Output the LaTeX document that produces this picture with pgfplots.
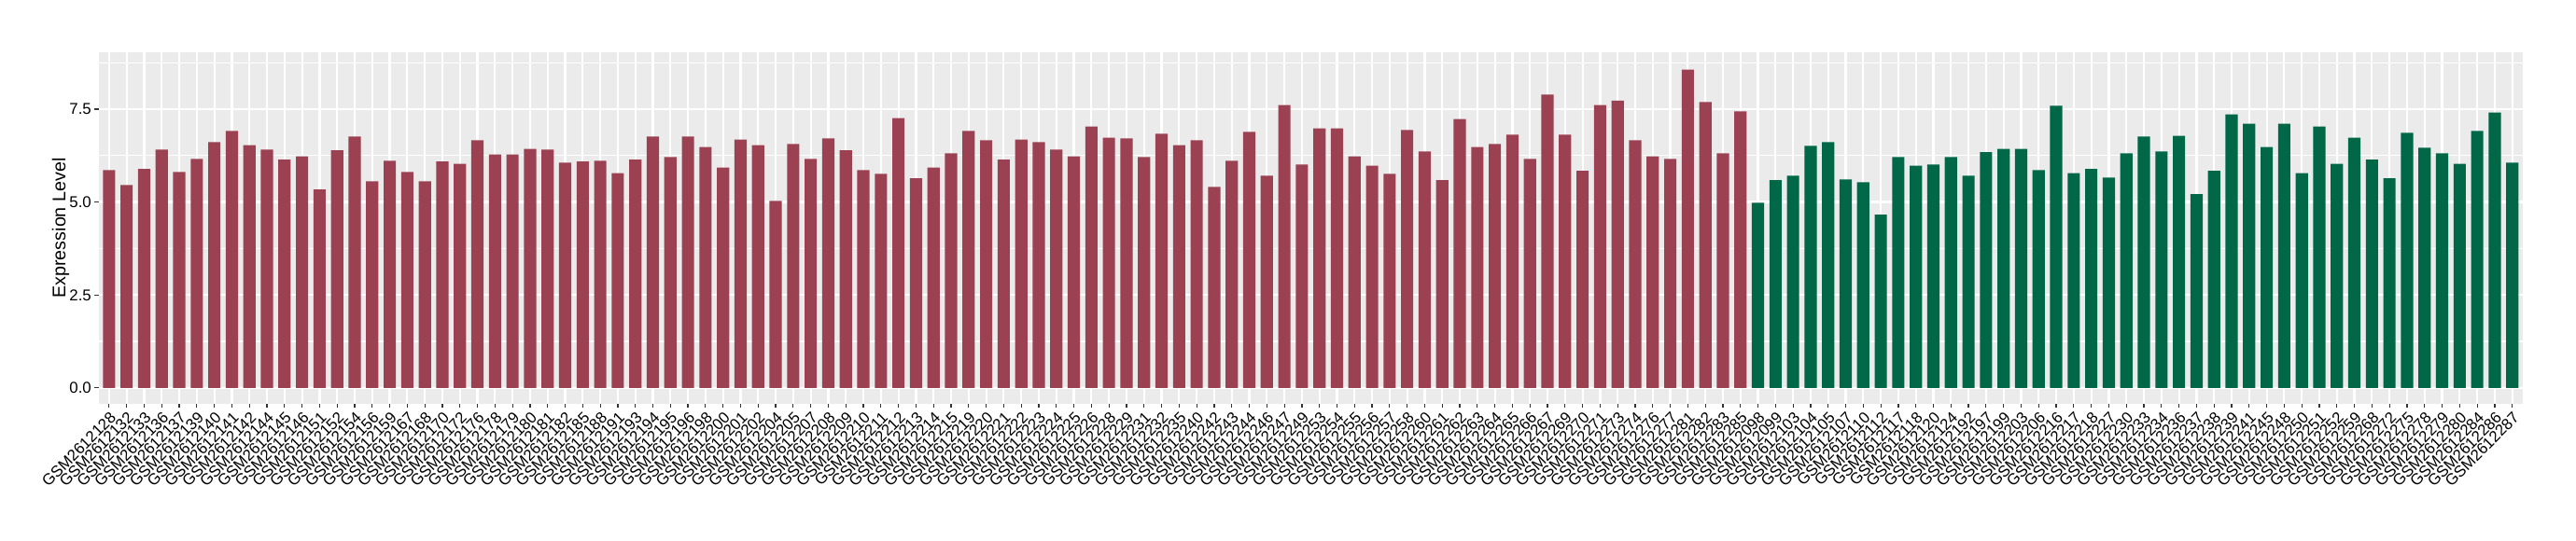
\documentclass[border=0pt]{standalone}
\usepackage{pgfplots}
\pgfplotsset{compat=1.18}
\usepackage{pgfplotstable}
\usepackage{fontspec}
\setmainfont{Liberation Sans}
\definecolor{bg}{RGB}{235,235,235}
\definecolor{redbar}{RGB}{155,65,82}
\definecolor{greenbar}{RGB}{0,104,71}
\definecolor{tickc}{RGB}{51,51,51}

\pgfplotstableread{
x y
0 5.86
1 5.46
2 5.89
3 6.41
4 5.81
5 6.16
6 6.61
7 6.91
8 6.53
9 6.41
10 6.14
11 6.23
12 5.34
13 6.39
14 6.76
15 5.56
16 6.11
17 5.81
18 5.56
19 6.09
20 6.03
21 6.66
22 6.28
23 6.28
24 6.43
25 6.41
26 6.06
27 6.09
28 6.11
29 5.78
30 6.14
31 6.76
32 6.21
33 6.76
34 6.48
35 5.93
36 6.68
37 6.53
38 5.03
39 6.56
40 6.16
41 6.71
42 6.39
43 5.86
44 5.76
45 7.26
46 5.64
47 5.93
48 6.31
49 6.91
50 6.66
51 6.14
52 6.68
53 6.61
54 6.41
55 6.23
56 7.03
57 6.73
58 6.71
59 6.21
60 6.84
61 6.53
62 6.66
63 5.41
64 6.11
65 6.89
66 5.71
67 7.61
68 6.01
69 6.98
70 6.98
71 6.23
72 5.98
73 5.76
74 6.94
75 6.36
76 5.59
77 7.23
78 6.48
79 6.56
80 6.81
81 6.16
82 7.89
83 6.81
84 5.84
85 7.61
86 7.73
87 6.66
88 6.23
89 6.16
90 8.56
91 7.69
92 6.31
93 7.44
}\redtab

\pgfplotstableread{
x y
94 4.98
95 5.59
96 5.71
97 6.51
98 6.61
99 5.61
100 5.53
101 4.66
102 6.21
103 5.98
104 6.01
105 6.21
106 5.71
107 6.34
108 6.43
109 6.43
110 5.86
111 7.59
112 5.78
113 5.89
114 5.66
115 6.31
116 6.76
117 6.36
118 6.78
119 5.21
120 5.84
121 7.36
122 7.11
123 6.48
124 7.11
125 5.78
126 7.03
127 6.03
128 6.73
129 6.14
130 5.64
131 6.86
132 6.46
133 6.31
134 6.03
135 6.91
136 7.41
137 6.06
}\greentab

\begin{document}
\begin{tikzpicture}
\path[use as bounding box] (0,0) rectangle (1380bp,290bp);
\begin{axis}[
  at={(52.8bp,73.5bp)}, anchor=south west,
  scale only axis, width=1298.7bp, height=188.5bp,
  xmin=-0.6, xmax=137.6, ymin=-0.43, ymax=9.03,
  axis background/.style={fill=bg},
  axis line style={draw=none},
  ybar, bar width=0.7,
  xtick={0,...,137},
  xticklabels={GSM2612128,GSM2612132,GSM2612133,GSM2612136,GSM2612137,GSM2612139,GSM2612140,GSM2612141,GSM2612142,GSM2612144,GSM2612145,GSM2612146,GSM2612151,GSM2612152,GSM2612154,GSM2612156,GSM2612159,GSM2612167,GSM2612168,GSM2612170,GSM2612172,GSM2612176,GSM2612178,GSM2612179,GSM2612180,GSM2612181,GSM2612182,GSM2612185,GSM2612188,GSM2612191,GSM2612193,GSM2612194,GSM2612195,GSM2612196,GSM2612198,GSM2612200,GSM2612201,GSM2612202,GSM2612204,GSM2612205,GSM2612207,GSM2612208,GSM2612209,GSM2612210,GSM2612211,GSM2612212,GSM2612213,GSM2612214,GSM2612215,GSM2612219,GSM2612220,GSM2612221,GSM2612222,GSM2612223,GSM2612224,GSM2612225,GSM2612226,GSM2612228,GSM2612229,GSM2612231,GSM2612232,GSM2612235,GSM2612240,GSM2612242,GSM2612243,GSM2612244,GSM2612246,GSM2612247,GSM2612249,GSM2612253,GSM2612254,GSM2612255,GSM2612256,GSM2612257,GSM2612258,GSM2612260,GSM2612261,GSM2612262,GSM2612263,GSM2612264,GSM2612265,GSM2612266,GSM2612267,GSM2612269,GSM2612270,GSM2612271,GSM2612273,GSM2612274,GSM2612276,GSM2612277,GSM2612281,GSM2612282,GSM2612283,GSM2612285,GSM2612098,GSM2612099,GSM2612103,GSM2612104,GSM2612105,GSM2612107,GSM2612110,GSM2612112,GSM2612117,GSM2612118,GSM2612120,GSM2612124,GSM2612192,GSM2612197,GSM2612199,GSM2612203,GSM2612206,GSM2612216,GSM2612217,GSM2612218,GSM2612227,GSM2612230,GSM2612233,GSM2612234,GSM2612236,GSM2612237,GSM2612238,GSM2612239,GSM2612241,GSM2612245,GSM2612248,GSM2612250,GSM2612251,GSM2612252,GSM2612259,GSM2612268,GSM2612272,GSM2612275,GSM2612278,GSM2612279,GSM2612280,GSM2612284,GSM2612286,GSM2612287},
  ytick={0,2.5,5,7.5},
  minor ytick={1.25,3.75,6.25,8.75},
  grid=both,
  major grid style={white, line width=1.1bp},
  minor grid style={white, line width=0.55bp},
  xtick pos=left, ytick pos=left,
  tick align=outside,
  major tick length=2.2bp, minor tick length=0pt,
  tick style={tickc, line width=0.6bp},
  yticklabel style={/pgf/number format/fixed, /pgf/number format/fixed zerofill, /pgf/number format/precision=1, /pgf/number format/assume math mode=true},
  yticklabel style={font=\fontsize{8.4bp}{9bp}\selectfont, text=black, inner sep=1.5bp},
  xticklabel style={rotate=45, anchor=north east, font=\fontsize{8.4bp}{9bp}\selectfont, text=black, inner sep=1bp},
  ylabel={Expression Level},
  every axis y label/.style={at={(axis description cs:-0.01563,0.5)}, anchor=center, rotate=90, font=\fontsize{9.85bp}{11bp}\selectfont},
]
\addplot[fill=redbar, draw=none, bar shift=0pt] table[x=x, y=y] {\redtab};
\addplot[fill=greenbar, draw=none, bar shift=0pt] table[x=x, y=y] {\greentab};
\end{axis}
\end{tikzpicture}
\end{document}
